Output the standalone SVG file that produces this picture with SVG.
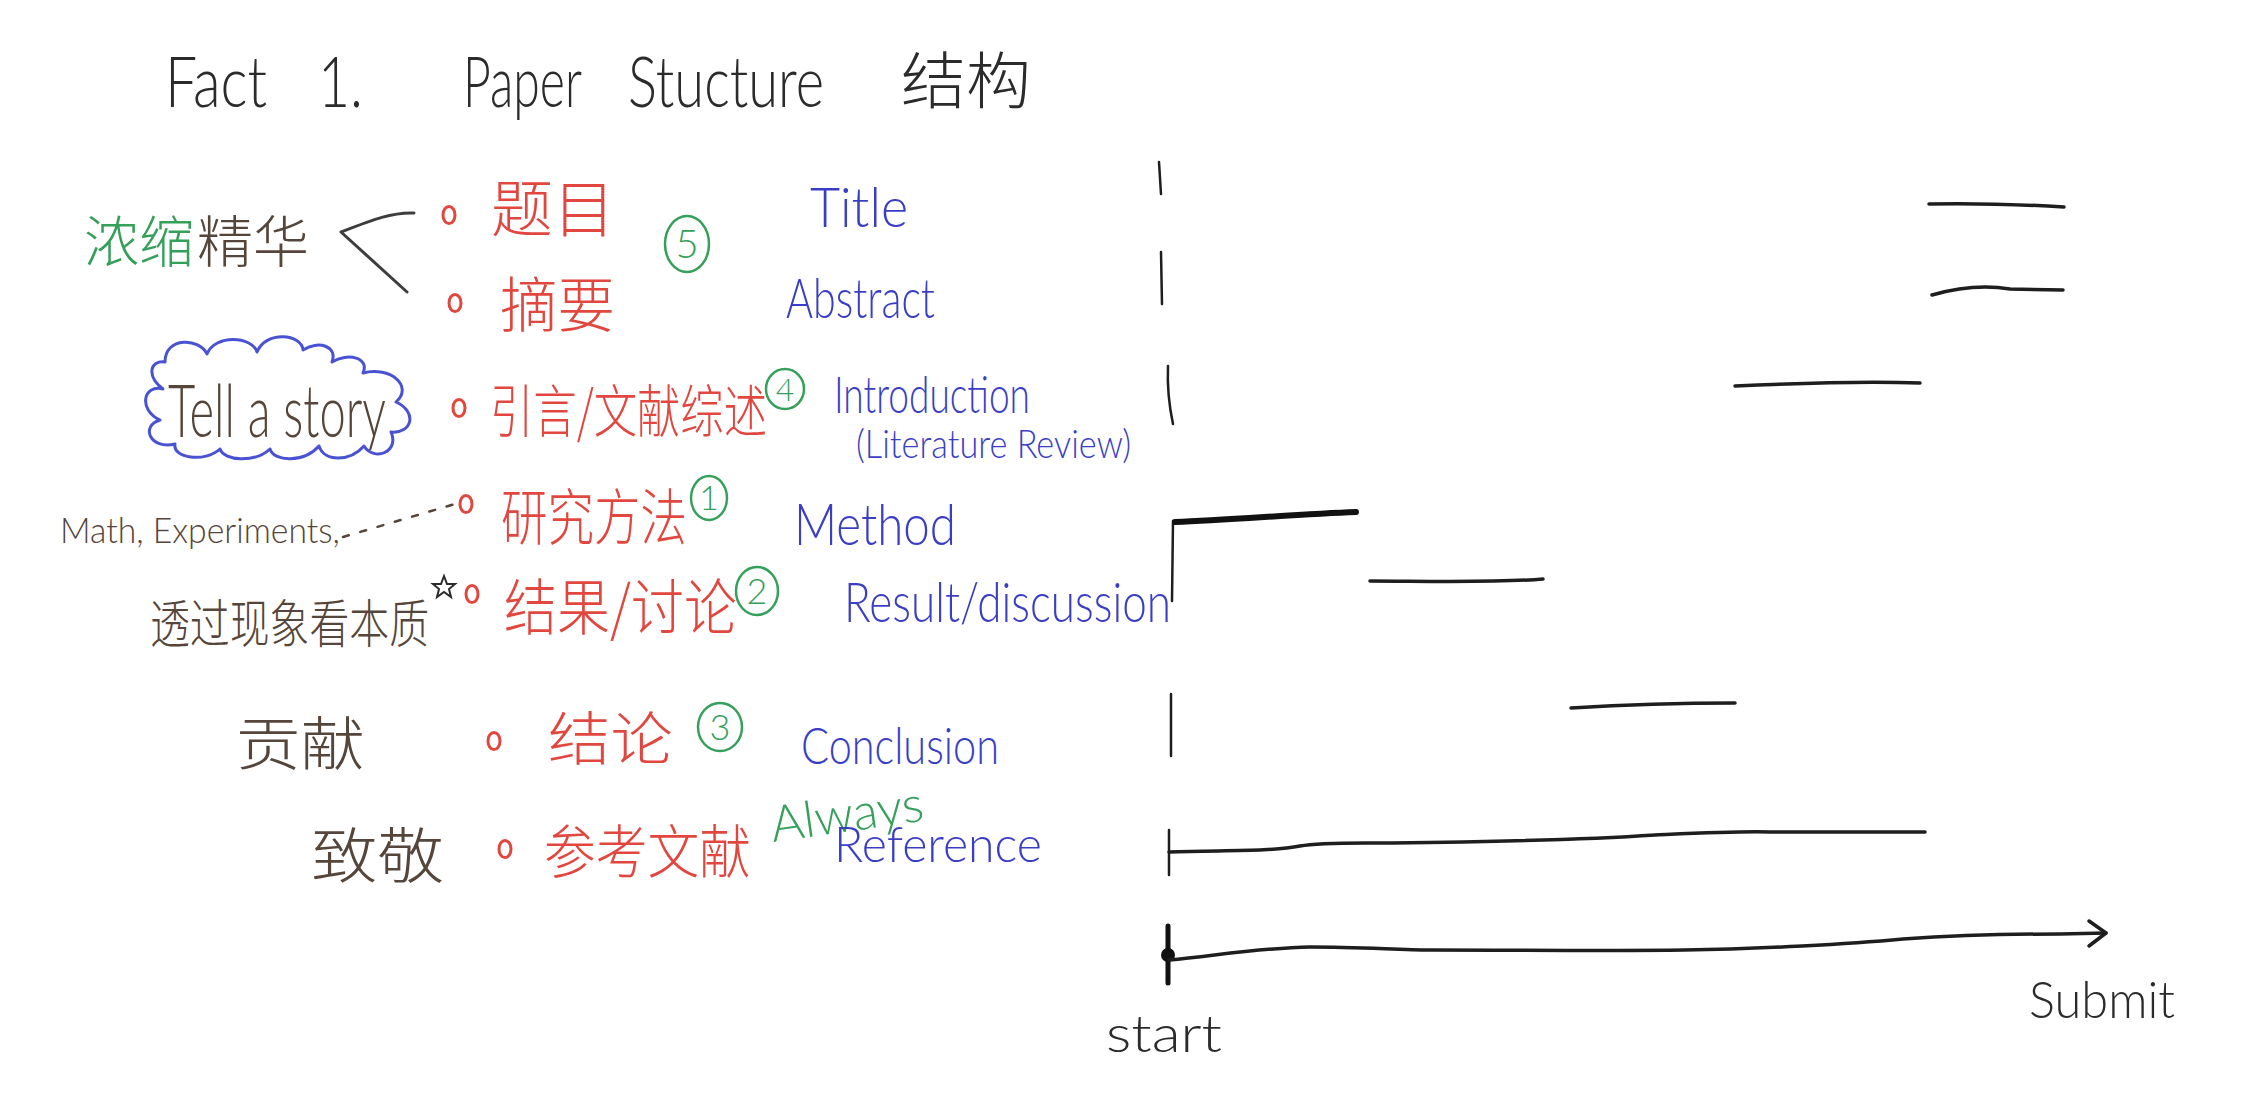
<svg xmlns="http://www.w3.org/2000/svg" width="2244" height="1094" viewBox="0 0 2244 1094">
<style>
text{font-family:"Lato","Liberation Sans","Noto Sans CJK SC",sans-serif;font-weight:300}
.cjk{font-family:"Noto Sans CJK SC","Noto Sans CJK JP",sans-serif;font-weight:300}
.k{fill:#2b2b2b}
.g{fill:#35a05a}
.br{fill:#55453a}
.r{fill:#e2473f}
.b{fill:#3a3ec4}
.bul{fill:none;stroke:#e2473f;stroke-width:3}
.circ{fill:none;stroke:#35a05a;stroke-width:2.5}
.ln{fill:none;stroke:#1e1e1e;stroke-width:3.5;stroke-linecap:round;stroke-linejoin:round}
.tk{fill:none;stroke:#1e1e1e;stroke-width:2.5;stroke-linecap:round}
</style>
<rect width="2244" height="1094" fill="#ffffff"/>

<g id="heading">
<text class="k" font-size="70" y="107"><tspan x="165" textLength="102" lengthAdjust="spacingAndGlyphs">Fact</tspan><tspan x="318" textLength="45" lengthAdjust="spacingAndGlyphs">1.</tspan></text>
<text class="k" font-size="70" y="107"><tspan x="463" textLength="119" lengthAdjust="spacingAndGlyphs">Paper</tspan><tspan x="628" textLength="196" lengthAdjust="spacingAndGlyphs">Stucture</tspan></text>
<text class="k cjk" font-size="62" x="901" y="104" textLength="130" lengthAdjust="spacingAndGlyphs">结构</text>
</g>

<g id="essence">
<text font-size="56" y="262"><tspan class="g cjk" x="84" textLength="110" lengthAdjust="spacingAndGlyphs">浓缩</tspan><tspan class="br cjk" x="197" textLength="112" lengthAdjust="spacingAndGlyphs">精华</tspan></text>
</g>

<g id="connectors">
<path d="M414,213 C392,212 372,220 341,232 L407,292" fill="none" stroke="#3d3d3d" stroke-width="3" stroke-linecap="round" stroke-linejoin="round"/>
<path d="M343,537 L455,504" fill="none" stroke="#55453a" stroke-width="2.5" stroke-dasharray="6 12" stroke-linecap="round"/>
</g>

<g id="row-title">
<ellipse class="bul" cx="449" cy="215" rx="6" ry="8.5"/>
<text class="r cjk" font-size="62" x="491" y="232" textLength="124" lengthAdjust="spacingAndGlyphs">题目</text>
<ellipse class="circ" cx="687" cy="244" rx="22" ry="28"/>
<text class="g" font-size="40" x="687" y="258" text-anchor="middle">5</text>
<text class="b" font-size="56" x="810" y="227" textLength="98" lengthAdjust="spacingAndGlyphs">Title</text>
</g>

<g id="row-abstract">
<ellipse class="bul" cx="455" cy="303" rx="6" ry="8.5"/>
<text class="r cjk" font-size="60" x="500" y="327" textLength="115" lengthAdjust="spacingAndGlyphs">摘要</text>
<text class="b" font-size="56" x="786" y="318" textLength="149" lengthAdjust="spacingAndGlyphs">Abstract</text>
</g>

<g id="row-intro">
<path d="M165,362 C165,336 200,338 207,354 C215,334 252,336 257,352 C266,330 302,334 303,350 C318,340 338,346 332,362 C348,352 370,358 363,373 C390,366 414,386 396,402 C418,412 412,434 391,432 C400,452 374,462 364,446 C350,462 324,462 319,446 C304,463 274,462 270,449 C255,463 224,461 220,449 C205,463 172,458 175,444 C150,450 140,426 160,420 C138,410 143,384 163,389 C146,376 150,360 165,362 Z" fill="none" stroke="#4852d2" stroke-width="3" stroke-linejoin="round"/>
<text class="br" font-size="72" x="168" y="437" textLength="218" lengthAdjust="spacingAndGlyphs">Tell a story</text>
<ellipse class="bul" cx="459" cy="408" rx="6" ry="8.5"/>
<text class="r cjk" font-size="44" x="490" y="432" textLength="277" lengthAdjust="spacingAndGlyphs" transform="translate(0,432) scale(1,1.3) translate(0,-432)">引言/文献综述</text>
<ellipse class="circ" cx="785" cy="389" rx="19" ry="20"/>
<text class="g" font-size="32" x="785" y="401" text-anchor="middle">4</text>
<text class="b" font-size="52" x="834" y="413" textLength="196" lengthAdjust="spacingAndGlyphs">Introduction</text>
<text class="b" font-size="40" x="856" y="458" textLength="275" lengthAdjust="spacingAndGlyphs">(Literature Review)</text>
</g>

<g id="row-method">
<text class="br" font-size="36" x="60" y="543" textLength="280" lengthAdjust="spacingAndGlyphs">Math, Experiments,</text>
<ellipse class="bul" cx="466" cy="504" rx="6" ry="8.5"/>
<text class="r cjk" font-size="48" x="501" y="540" textLength="186" lengthAdjust="spacingAndGlyphs" transform="translate(0,540) scale(1,1.28) translate(0,-540)">研究方法</text>
<ellipse class="circ" cx="709" cy="498" rx="18" ry="22"/>
<text class="g" font-size="34" x="709" y="510" text-anchor="middle">1</text>
<text class="b" font-size="58" x="794" y="545" textLength="162" lengthAdjust="spacingAndGlyphs">Method</text>
</g>

<g id="row-result">
<text class="br cjk" font-size="52" x="150" y="643" textLength="279" lengthAdjust="spacingAndGlyphs">透过现象看本质</text>
<polygon points="444,576 447,584 455,584 449,589 451,597 444,592 437,597 439,589 433,584 441,584" fill="none" stroke="#2b2b2b" stroke-width="2"/>
<ellipse class="bul" cx="472" cy="594" rx="6" ry="8.5"/>
<text class="r cjk" font-size="52" x="504" y="630" textLength="233" lengthAdjust="spacingAndGlyphs" transform="translate(0,630) scale(1,1.18) translate(0,-630)">结果/讨论</text>
<ellipse class="circ" cx="757" cy="591" rx="21" ry="24"/>
<text class="g" font-size="36" x="757" y="604" text-anchor="middle">2</text>
<text class="b" font-size="55" x="844" y="622" textLength="327" lengthAdjust="spacingAndGlyphs">Result/discussion</text>
</g>

<g id="row-conclusion">
<text class="br cjk" font-size="58" x="236" y="765" textLength="129" lengthAdjust="spacingAndGlyphs">贡献</text>
<ellipse class="bul" cx="494" cy="741" rx="6" ry="8.5"/>
<text class="r cjk" font-size="58" x="548" y="760" textLength="125" lengthAdjust="spacingAndGlyphs">结论</text>
<ellipse class="circ" cx="720" cy="727" rx="22" ry="24"/>
<text class="g" font-size="36" x="720" y="740" text-anchor="middle">3</text>
<text class="b" font-size="52" x="801" y="764" textLength="198" lengthAdjust="spacingAndGlyphs">Conclusion</text>
</g>

<g id="row-reference">
<text class="br cjk" font-size="60" x="311" y="878" textLength="133" lengthAdjust="spacingAndGlyphs">致敬</text>
<ellipse class="bul" cx="505" cy="849" rx="6" ry="8.5"/>
<text class="r cjk" font-size="58" x="544" y="873" textLength="207" lengthAdjust="spacingAndGlyphs">参考文献</text>
<text class="g" font-size="50" x="773" y="842" textLength="154" lengthAdjust="spacingAndGlyphs" transform="rotate(-8 773 842)">Always</text>
<text class="b" font-size="50" x="834" y="862" textLength="208" lengthAdjust="spacingAndGlyphs">Reference</text>
</g>

<g id="timeline">
<path class="tk" d="M1159,162 L1161,194"/>
<path class="ln" d="M1929,204 C1980,203 2030,205 2064,207"/>
<path class="tk" d="M1161,252 L1162,304"/>
<path class="ln" d="M1932,295 C1960,287 1985,285 2010,289 L2063,290"/>
<path class="tk" d="M1168,366 C1167,390 1170,410 1173,424"/>
<path class="ln" d="M1735,386 C1800,383 1870,381 1920,383"/>
<path class="tk" d="M1173,521 L1172,601"/>
<path d="M1175,522 C1230,520 1300,514 1356,512" fill="none" stroke="#111" stroke-width="6" stroke-linecap="round"/>
<path class="ln" d="M1370,581 C1420,581 1500,583 1543,579"/>
<path class="tk" d="M1171,694 L1171,756"/>
<path class="ln" d="M1571,708 C1620,705 1690,703 1735,703"/>
<path class="tk" d="M1169,830 L1169,875"/>
<path class="ln" d="M1169,852 C1220,850 1270,852 1300,846 C1320,842 1360,843 1392,843 C1480,842 1580,840 1655,835 C1700,833 1740,831 1770,832 C1830,832 1890,832 1925,832"/>
<path d="M1168,926 L1168,983" fill="none" stroke="#111" stroke-width="5" stroke-linecap="round"/>
<circle cx="1168" cy="955" r="7" fill="#111"/>
<path class="ln" d="M1169,960 C1220,955 1260,948 1310,947 C1360,947 1400,950 1430,950 C1520,950 1620,951 1684,950 C1760,949 1850,944 1903,939 C1960,935 2010,934 2060,934 L2106,933"/>
<path class="ln" d="M2089,921 L2106,933 L2089,946"/>
<text class="k" font-size="52" x="1106" y="1052" textLength="116" lengthAdjust="spacingAndGlyphs">start</text>
<text class="k" font-size="52" x="2029" y="1018" textLength="146" lengthAdjust="spacingAndGlyphs">Submit</text>
</g>
</svg>
